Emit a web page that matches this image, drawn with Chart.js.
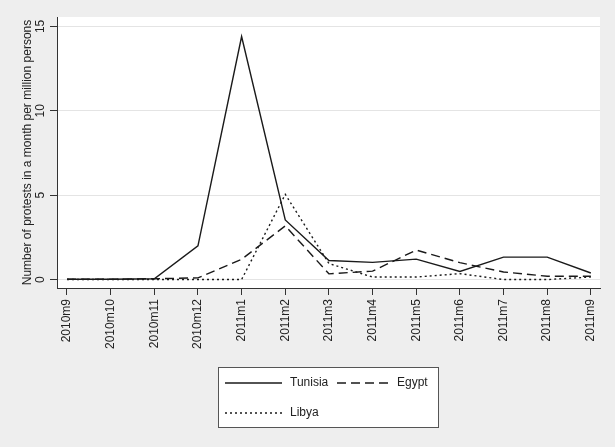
<!DOCTYPE html>
<html>
<head>
<meta charset="utf-8">
<script src="https://cdn.jsdelivr.net/npm/chart.js@4.4.0/dist/chart.umd.min.js"></script>
<style>
  html, body { margin: 0; padding: 0; background: #eeeeee; }
  #wrap { width: 615px; height: 447px; position: relative; }
</style>
</head>
<body>
<div id="wrap"><canvas id="c"></canvas></div>
<script>
// Monthly protest counts per million persons
const months = ['2010m9','2010m10','2010m11','2010m12','2011m1','2011m2','2011m3',
                '2011m4','2011m5','2011m6','2011m7','2011m8','2011m9'];
const tunisia = [0.02, 0.02, 0.05, 2.0, 14.4, 3.53, 1.13, 1.02, 1.21, 0.48, 1.33, 1.33, 0.39];
const egypt   = [0.02, 0.02, 0.05, 0.1, 1.2, 3.18, 0.34, 0.5, 1.75, 1.0, 0.45, 0.2, 0.2];
const libya   = [0, 0, 0, 0, 0, 5.05, 0.95, 0.15, 0.15, 0.35, 0, 0, 0.15];
const yTicks  = [0, 5, 10, 15];
const yTitle  = 'Number of protests in a month per million persons';

const FONT = '"Liberation Sans", Arial, sans-serif';
const INK = '#222222';

const toPoints = arr => arr.map((v, i) => ({ x: i, y: v }));

// White plot region behind the lines
const plotBg = {
  id: 'plotBg',
  beforeDraw(chart) {
    const { ctx, chartArea: a } = chart;
    ctx.save();
    ctx.fillStyle = '#ffffff';
    ctx.fillRect(a.left, a.top, a.right - a.left, a.bottom - a.top);
    ctx.restore();
  }
};

// Vertical y tick labels, reading bottom to top
const yLabels = {
  id: 'yLabels',
  afterDraw(chart) {
    const { ctx } = chart;
    const y = chart.scales.y;
    ctx.save();
    ctx.fillStyle = INK;
    ctx.font = '12px ' + FONT;
    ctx.textAlign = 'center';
    ctx.textBaseline = 'middle';
    yTicks.forEach(v => {
      ctx.save();
      ctx.translate(y.right - 16, y.getPixelForValue(v));
      ctx.rotate(-Math.PI / 2);
      ctx.fillText(String(v), 0, 0);
      ctx.restore();
    });
    ctx.restore();
  }
};

// Boxed legend below the axis: two keys on the first row, one on the second
const boxLegend = {
  id: 'boxLegend',
  afterDraw(chart) {
    const { ctx } = chart;
    const box = { x: 218.5, y: 367.5, w: 220, h: 60 };
    ctx.save();
    ctx.fillStyle = '#ffffff';
    ctx.fillRect(box.x, box.y, box.w, box.h);
    ctx.strokeStyle = '#555555';
    ctx.lineWidth = 1;
    ctx.strokeRect(box.x, box.y, box.w, box.h);
    const slots = [
      { x: 225, y: 383, len: 57, tx: 290 },
      { x: 337, y: 383, len: 55, tx: 397 },
      { x: 225, y: 413, len: 57, tx: 290 }
    ];
    chart.data.datasets.forEach((ds, i) => {
      const s = slots[i];
      ctx.save();
      ctx.strokeStyle = ds.borderColor;
      ctx.lineWidth = ds.borderWidth;
      ctx.setLineDash(ds.borderDash || []);
      ctx.beginPath();
      ctx.moveTo(s.x, s.y);
      ctx.lineTo(s.x + s.len, s.y);
      ctx.stroke();
      ctx.restore();
      ctx.fillStyle = INK;
      ctx.font = '12px ' + FONT;
      ctx.textAlign = 'left';
      ctx.textBaseline = 'middle';
      ctx.fillText(ds.label, s.tx, s.y);
    });
    ctx.restore();
  }
};

new Chart(document.getElementById('c'), {
  type: 'line',
  data: {
    datasets: [
      { label: 'Tunisia', data: toPoints(tunisia), borderColor: '#1a1a1a', borderWidth: 1.4 },
      { label: 'Egypt', data: toPoints(egypt), borderColor: '#1a1a1a', borderWidth: 1.4, borderDash: [9, 5] },
      { label: 'Libya', data: toPoints(libya), borderColor: '#1a1a1a', borderWidth: 1.4, borderDash: [2, 3] }
    ]
  },
  options: {
    responsive: true,
    maintainAspectRatio: false,
    animation: false,
    devicePixelRatio: 1,
    elements: { point: { radius: 0 }, line: { tension: 0 } },
    layout: { padding: { top: 17, right: 15, bottom: 97, left: 0 } },
    plugins: { legend: { display: false }, tooltip: { enabled: false } },
    scales: {
      x: {
        type: 'linear',
        min: -0.229,
        max: 12.21,
        afterBuildTicks(scale) { scale.ticks = months.map((_, i) => ({ value: i })); },
        afterFit(scale) { scale.height = 62; },
        border: { display: true, color: '#333333', width: 1 },
        grid: { drawOnChartArea: false, drawTicks: true, tickLength: 7, tickColor: '#333333' },
        ticks: {
          autoSkip: false,
          minRotation: 90,
          maxRotation: 90,
          padding: 4,
          color: INK,
          font: { family: FONT, size: 12 },
          callback: v => months[v]
        }
      },
      y: {
        type: 'linear',
        min: -0.5,
        max: 15.56,
        afterBuildTicks(scale) { scale.ticks = yTicks.map(v => ({ value: v })); },
        afterFit(scale) { scale.width = 57; },
        border: { display: true, color: '#333333', width: 1 },
        grid: { color: '#e4e4e4', lineWidth: 1, drawTicks: true, tickLength: 7, tickColor: '#333333' },
        ticks: { display: false },
        title: {
          display: true,
          text: yTitle,
          color: INK,
          font: { family: FONT, size: 12 },
          padding: { top: 20, bottom: 0 }
        }
      }
    }
  },
  plugins: [plotBg, yLabels, boxLegend]
});
</script>
</body>
</html>
